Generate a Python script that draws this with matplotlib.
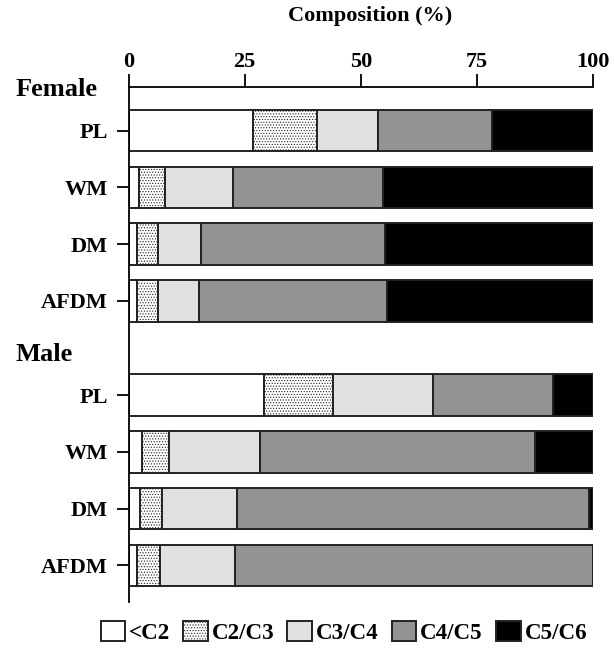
import matplotlib.pyplot as plt
import matplotlib.transforms as mtransforms
import numpy as np

plt.rcParams['font.family'] = ['Liberation Serif', 'DejaVu Serif']
plt.rcParams['font.weight'] = 'bold'
plt.rcParams['hatch.linewidth'] = 0.5

groups = ['Female', 'Male']
rows = ['PL', 'WM', 'DM', 'AFDM']
classes = ['<C2', 'C2/C3', 'C3/C4', 'C4/C5', 'C5/C6']

# composition (%) per class, order PL, WM, DM, AFDM
female = {
    '<C2':   [26.9, 2.3, 1.8, 1.8],
    'C2/C3': [13.7, 5.6, 4.6, 4.6],
    'C3/C4': [13.2, 14.7, 9.2, 8.8],
    'C4/C5': [24.4, 32.1, 39.6, 40.4],
    'C5/C6': [21.8, 45.3, 44.8, 44.4],
}
male = {
    '<C2':   [29.2, 2.8, 2.4, 1.9],
    'C2/C3': [14.8, 6.0, 4.9, 4.9],
    'C3/C4': [21.5, 19.6, 16.1, 16.2],
    'C4/C5': [25.8, 59.1, 75.8, 77.0],
    'C5/C6': [8.7, 12.5, 0.8, 0.0],
}

faces = ['white', 'white', '#e0e0e0', '#939393', 'black']
hatches = [None, '......', None, None, None]

fig = plt.figure(figsize=(6.14, 6.49), dpi=100)
ax = fig.add_axes([0.2093, 0.0724, 0.7565, 0.7936])

ypos_f = np.arange(4)
ypos_m = np.arange(4) + 4.663
bar_h = 0.73

for data, ypos in [(female, ypos_f), (male, ypos_m)]:
    left = np.zeros(4)
    for c, fc, h in zip(classes, faces, hatches):
        vals = np.array(data[c])
        ax.barh(ypos, vals, left=left, height=bar_h, color=fc, edgecolor='#222222',
                linewidth=1.4, hatch=h, label=c if ypos is ypos_f else None)
        left += vals

ax.set_xlim(0, 100)
ax.set_ylim(8.31, -0.772)
ax.xaxis.tick_top()
ax.set_xticks([0, 25, 50, 75, 100])
ax.tick_params(axis='x', direction='out', length=9.5, width=1.3, labelsize=16, pad=1)
ax.tick_params(axis='y', direction='out', length=9, width=1.3, labelsize=16, pad=6)
ax.set_yticks(np.concatenate([ypos_f, ypos_m]))
ax.set_yticklabels(rows + rows)
ax.spines['right'].set_visible(False)
ax.spines['bottom'].set_visible(False)
ax.spines['top'].set_linewidth(1.3)
ax.spines['left'].set_linewidth(1.3)

fig.text(0.602, 0.975, 'Composition (%)', fontsize=16, ha='center', va='center')

trans = mtransforms.blended_transform_factory(ax.transAxes, ax.transData)
ax.text(-0.243, -0.72, 'Female', transform=trans, fontsize=19, ha='left', va='center')
ax.text(-0.243, 3.95, 'Male', transform=trans, fontsize=19, ha='left', va='center')

fig.legend(loc='center', bbox_to_anchor=(0.56, 0.026), ncol=5, frameon=False,
           fontsize=16.6, handlelength=1.08, handleheight=1.0, handletextpad=0.17,
           columnspacing=0.55, borderpad=0)

fig.savefig('out.png', dpi=100)
